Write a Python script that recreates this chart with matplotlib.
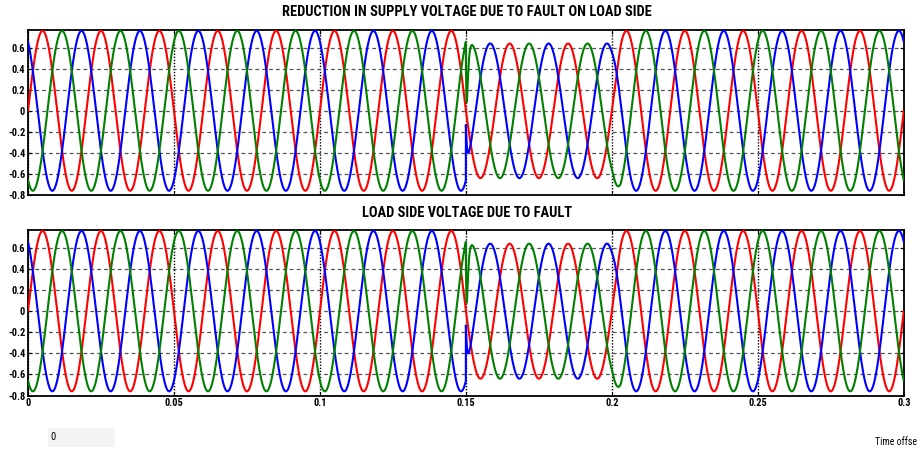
import numpy as np
import matplotlib
matplotlib.use("Agg")
import matplotlib.pyplot as plt
from matplotlib.patches import Rectangle
from matplotlib import font_manager

# ---- data ----
freq_hz = 50.0
phase_names = ["A", "B", "C"]
phase_colors = ["#ff0000", "#0000ff", "#008000"]
phase_shift_deg = [0.0, 120.0, -120.0]
fault_start = 0.15
fault_end = 0.20
amp_normal = 0.76
amp_fault = 0.64
recovery_ramp = 0.003
# fault-inception transients (offset peak, time constant) per phase
transient_peak = [0.0, 0.42, -0.50]
transient_tau = [0.0004, 0.0004, 0.0003]
transient_kind = ["none", "decay", "pulse"]

titles = ["REDUCTION IN SUPPLY VOLTAGE DUE TO FAULT ON LOAD SIDE",
          "LOAD SIDE VOLTAGE DUE TO FAULT"]
y_ticks = [-0.8, -0.6, -0.4, -0.2, 0, 0.2, 0.4, 0.6]
y_tick_labels = ["-0.8", "-0.6", "-0.4", "-0.2", "0", "0.2", "0.4", "0.6"]
x_ticks = [0, 0.05, 0.1, 0.15, 0.2, 0.25, 0.3]
x_tick_labels = ["0", "0.05", "0.1", "0.15", "0.2", "0.25", "0.3"]

# ---- build waveforms ----
t = np.linspace(0, 0.3, 30001)
amp = np.full_like(t, amp_normal)
amp[(t >= fault_start) & (t < fault_end)] = amp_fault
ramp = (t >= fault_end) & (t < fault_end + recovery_ramp)
amp[ramp] = amp_fault + (amp_normal - amp_fault) * (t[ramp] - fault_end) / recovery_ramp

def waveform(i):
    v = amp * np.sin(2 * np.pi * freq_hz * t + np.deg2rad(phase_shift_deg[i]))
    dt = t - fault_start
    m = dt >= 0
    tau = transient_tau[i]
    if transient_kind[i] == "decay":
        v[m] += transient_peak[i] * np.exp(-dt[m] / tau)
    elif transient_kind[i] == "pulse":
        v[m] += transient_peak[i] * (dt[m] / tau) * np.exp(1 - dt[m] / tau)
    return v

signals = [waveform(i) for i in range(3)]

# ---- fonts ----
avail = {f.name for f in font_manager.fontManager.ttflist}
narrow = [n for n in ["Liberation Sans Narrow", "DejaVu Sans Condensed", "Roboto Condensed",
                      "Open Sans Condensed"] if n in avail]
if narrow:
    plt.rcParams['font.family'] = [narrow[0], 'DejaVu Sans']
    title_size, tick_size = 10.4, 7.5
else:
    plt.rcParams['font.family'] = ['Liberation Sans', 'DejaVu Sans']
    title_size, tick_size = 8.6, 6.8

fig = plt.figure(figsize=(9.18, 4.5), dpi=100)
fig.patch.set_facecolor("white")

axes_rects = [[0.0305, 0.5667, 0.954, 0.367], [0.0305, 0.121, 0.954, 0.368]]
title_y = [1 - 12 / 450, 1 - 213 / 450]

for k, rect in enumerate(axes_rects):
    ax = fig.add_axes(rect)
    for i in range(3):
        ax.plot(t, signals[i], color=phase_colors[i], lw=1.5, zorder=3)
    ax.set_xlim(0, 0.3)
    ax.set_ylim(-0.8, 0.77)
    ax.set_yticks(y_ticks)
    ax.set_yticklabels(y_tick_labels, fontsize=tick_size, fontweight="bold")
    ax.set_xticks(x_ticks)
    if k == 1:
        ax.set_xticklabels(x_tick_labels, fontsize=tick_size, fontweight="bold")
    else:
        ax.set_xticklabels([])
    ax.yaxis.grid(True, linestyle=(0, (3, 2.5)), color="#555555", lw=0.9)
    ax.xaxis.grid(True, linestyle=(0, (1, 1.2)), color="black", lw=1.0)
    ax.set_axisbelow(True)
    ax.tick_params(direction="in", length=3, width=0.8, right=True, top=True, pad=2)
    for s in ax.spines.values():
        s.set_linewidth(1.3)
        s.set_color("black")
    fig.text(467 / 918, title_y[k], titles[k], ha="center", va="center",
             fontsize=title_size, fontweight="bold")

# bottom annotations
fig.patches.append(Rectangle((48 / 918, 1 - 447 / 450), 67 / 918, 19 / 450,
                             transform=fig.transFigure, facecolor="#f3f3f3",
                             edgecolor="none"))
fig.text(50 / 918, 1 - 437 / 450, "0", fontsize=tick_size, va="center", ha="left")
fig.text(917 / 918, 1 - 442 / 450, "Time offse", fontsize=7, va="center", ha="right")

fig.savefig("out.png", dpi=100, facecolor="white")
